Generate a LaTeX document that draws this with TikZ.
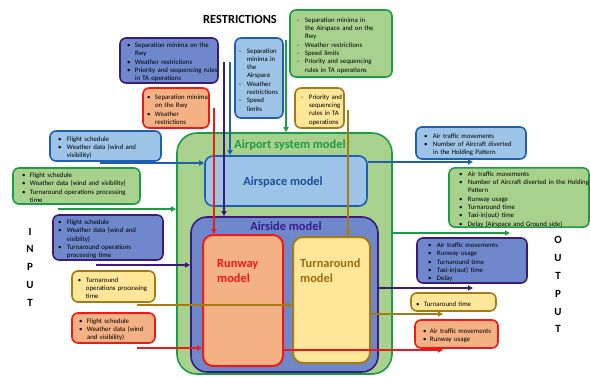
\documentclass[tikz,border=0pt]{standalone}
\usepackage{fontspec}
\setmainfont{Carlito}
\usetikzlibrary{arrows.meta}
\hyphenpenalty=10000 \exhyphenpenalty=10000
\definecolor{gF}{HTML}{A9D18E}\definecolor{gB}{HTML}{1E9B45}
\definecolor{bF}{HTML}{9DC3E6}\definecolor{bB}{HTML}{1F5FAF}\definecolor{bT}{HTML}{1F4E9A}
\definecolor{pF}{HTML}{6F88CC}\definecolor{pB}{HTML}{3C1A78}\definecolor{pT}{HTML}{3A1C8C}
\definecolor{rF}{HTML}{F4B183}\definecolor{rB}{HTML}{F01818}
\definecolor{yF}{HTML}{FFE699}\definecolor{yB}{HTML}{A67A14}\definecolor{yT}{HTML}{9C6B10}
\newlength\bo\newlength\tx
\def\mk{•}
\newcommand{\itm}[1]{\par\noindent\hangindent=\tx\hangafter=1\makebox[\tx][l]{\hspace*{\bo}\mk}#1\par}
\newcommand{\bsp}[2]{\setlength\bo{#1pt}\setlength\tx{#2pt}}
\newcommand{\bx}[8]{%
  \pgfmathsetmacro\bw{#5-#3}\pgfmathsetmacro\bh{#6-#4}%
  \pgfmathsetmacro\cx{(#3+#5)/2}\pgfmathsetmacro\cy{(#4+#6)/2}%
  \pgfmathsetmacro\tw{#5-#3-2}%
  \node[#2, minimum width=\bw pt, minimum height=\bh pt, text width=\tw pt,
        inner xsep=1pt, inner ysep=0pt] (#1) at (\cx,\cy) {#7#8};}
\tikzset{
  box/.style={rounded corners=6pt, line width=1.6pt, align=left,
     font=\fontsize{6.8}{8.3}\selectfont},
  gbox/.style={box, draw=gB, fill=gF},
  bbox/.style={box, draw=bB, fill=bF},
  pbox/.style={box, draw=pB, fill=pF},
  rbox/.style={box, draw=rB, fill=rF},
  ybox/.style={box, draw=yB, fill=yF},
  conn/.style={line width=1.4pt, -{Triangle[length=5pt,width=5pt]}},
  ttl/.style={font=\fontsize{12.4}{15}\selectfont\bfseries, inner sep=0pt},
  let/.style={font=\fontsize{11}{12}\selectfont\bfseries, inner sep=0pt},
}
\begin{document}
\begin{tikzpicture}[x=1pt,y=-1pt]
\useasboundingbox (0,0) rectangle (590,376);
% main model boxes
\bx{asys}{gbox, rounded corners=20pt}{177}{133}{392}{374}{}{}
\bx{aspace}{bbox, rounded corners=8pt}{205}{156}{367}{206}{}{}
\bx{aside}{pbox, rounded corners=16pt}{191}{217}{378}{372}{}{}
\bx{run}{rbox, rounded corners=10pt, line width=2pt}{203}{235}{283}{366}{}{}
\bx{turn}{ybox, rounded corners=10pt, line width=2pt}{293}{237}{370}{363}{}{}
\node[ttl, text=gB] (tsys) at (290,145) {Airport system model};
\node[ttl, text=bT] (tspace) at (283,182) {Airspace model};
\node[ttl, text=pT] (tside) at (286,226) {Airside model};
\node[ttl, text=rB, anchor=north west, align=left] (trun) at (217,259) {Runway\\model};
\node[ttl, text=yT, anchor=north west, align=left] (tturn) at (300,259) {Turnaround\\model};
% restrictions
\node[font=\fontsize{12.4}{13}\selectfont\bfseries, inner sep=0pt] (restr) at (240,19) {RESTRICTIONS};
\bx{rp}{pbox}{120}{38}{218}{83}{\bsp{6}{14}}{\itm{\mbox{Separation minima on the}\newline Rwy}\itm{Weather restrictions}\itm{\mbox{Priority and sequencing rules}\newline in TA operations}}
\bx{rr}{rbox}{143}{88}{209}{128}{\bsp{3}{11}}{\itm{\mbox{Separation minima}\newline on the Rwy}\itm{Weather\newline restrictions}}
\bx{rb}{bbox}{235}{38}{283}{118}{\bsp{3}{11}\def\mk{-}}{\itm{Separation\newline minima in\newline the\newline Airspace}\itm{Weather\newline restrictions}\itm{Speed\newline limits}}
\bx{rg}{gbox}{290}{10}{392}{77}{\bsp{6}{14}\def\mk{-}}{\itm{Separation minima in\newline \mbox{the Airspace and on the}\newline Rwy}\itm{Weather restrictions}\itm{Speed limits}\itm{Priority and sequencing\newline rules in TA operations}}
\bx{ry}{ybox}{295}{88}{344}{128}{\bsp{5}{13}\def\mk{-}}{\itm{Priority and\newline sequencing\newline rules in TA\newline operations}}
% inputs
\bx{ib}{bbox}{50}{131}{161}{161}{\bsp{7}{16}}{\itm{Flight schedule}\itm{Weather data (wind and\newline visibility)}}
\bx{ig}{gbox}{13}{168}{140}{204}{\bsp{8}{16}}{\itm{Flight schedule}\itm{\mbox{Weather data (wind and visibility)}}\itm{\mbox{Turnaround operations processing}\newline time}}
\bx{ip}{pbox}{53}{215}{163}{260}{\bsp{4}{13}}{\itm{Flight schedule}\itm{Weather data (wind and\newline visiblity)}\itm{Turnaround operations\newline processing time}}
\bx{iy}{ybox}{72}{271}{155}{302}{\bsp{5}{13}}{\itm{Turnaround\newline \mbox{operations processing}\newline time}}
\bx{ir}{rbox}{72}{313}{155}{343}{\bsp{6}{14}}{\itm{Flight schedule}\itm{Weather data (wind\newline and visibility)}}
% outputs
\bx{ob}{bbox}{416}{127}{526}{159}{\bsp{7}{16}}{\itm{Air traffic movements}\itm{\mbox{Number of Aircraft diverted}\newline in the Holding Pattern}}
\bx{og}{gbox}{449}{168}{589}{227}{\bsp{9}{18}}{\itm{Air traffic movements}\itm{\mbox{Number of Aircraft diverted in the Holding}\newline Pattern}\itm{Runway usage}\itm{Turnaround time}\itm{Taxi-in(out) time}\itm{\mbox{Delay (Airspace and Ground side)}}}
\bx{op}{pbox}{417}{238}{527}{283}{\bsp{10}{19}}{\itm{Air traffic movements}\itm{Runway usage}\itm{Turnaround time}\itm{Taxi-in(out) time}\itm{Delay}}
\bx{oy}{ybox}{411}{293}{496}{311}{\bsp{4}{12}}{\itm{Turnaround time}}
\bx{or}{rbox}{415}{320}{498}{348}{\bsp{7}{14}}{\itm{Air traffic movements}\itm{Runway usage}}
% INPUT / OUTPUT letters
\foreach \l/\yy [count=\i] in {I/232,N/249,P/267,U/285,T/303} \node[let] (in\i) at (30,\yy) {\l};
\foreach \l/\yy [count=\i] in {O/240,U/258,T/276,P/294,U/312,T/329} \node[let] (out\i) at (558,\yy) {\l};
% restriction connectors
\coordinate (gs) at (286,40);
\coordinate (bs) at (230,62);
\coordinate (ps) at (224,62);
\coordinate (rs) at (214,108);
\coordinate (ys) at (348,110);
\draw[conn, gB] (gs) -- (gs |- asys.north);
\draw[conn, bB] (bs) -- (bs |- aspace.north);
\draw[conn, pB] (ps) -- (ps |- aside.north);
\draw[conn, rB] (rs) -- (rs |- run.north);
\draw[conn, yB] (ys) -- (ys |- turn.north);
% input connectors
\coordinate (ibs) at (100,163);
\coordinate (igs) at (58,209);
\coordinate (ips) at (96,265);
\coordinate (iys) at (137,305);
\coordinate (irs) at (137,348);
\draw[conn, bB] (ibs) -- (ibs -| aspace.west);
\draw[conn, gB] (igs) -- (igs -| asys.west);
\draw[conn, pB] (ips) -- (ips -| aside.west);
\draw[conn, yB] (iys) -- (iys -| turn.west);
\draw[conn, rB] (irs) -- (irs -| run.west);
% output connectors
\coordinate (obe) at (473,162);
\coordinate (oge) at (510,233);
\coordinate (ope) at (473,288);
\coordinate (oye) at (443,314);
\coordinate (ore) at (443,350);
\draw[conn, bB] (obe -| aspace.east) -- (obe);
\draw[conn, gB] (oge -| asys.east) -- (oge);
\draw[conn, pB] (ope -| aside.east) -- (ope);
\draw[conn, yB] (oye -| turn.east) -- (oye);
\draw[conn, rB] (ore -| run.east) -- (ore);
\end{tikzpicture}
\end{document}
